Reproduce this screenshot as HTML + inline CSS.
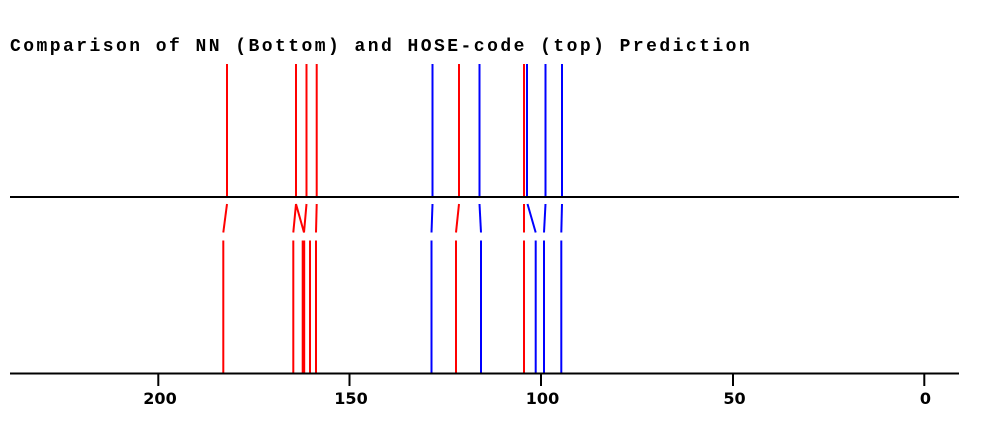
<!DOCTYPE html>
<html>
<head>
<meta charset="utf-8">
<style>
html,body{margin:0;padding:0;background:#fff;}
body{width:993px;height:426px;overflow:hidden;}
svg{display:block;}
</style>
</head>
<body>
<svg width="993" height="426" viewBox="0 0 993 426" xmlns="http://www.w3.org/2000/svg">
<rect width="993" height="426" fill="#fff"/>
<text x="10" y="51" font-family="Liberation Mono, monospace" font-weight="bold" font-size="18" letter-spacing="2.45" fill="#000">Comparison of NN (Bottom) and HOSE-code (top) Prediction</text>

<!-- top lines -->
<g stroke="#ff0000" stroke-width="2">
<line x1="227" y1="64" x2="227" y2="197"/>
<line x1="296" y1="64" x2="296" y2="197"/>
<line x1="306.5" y1="64" x2="306.5" y2="197"/>
<line x1="316.7" y1="64" x2="316.7" y2="197"/>
<line x1="459" y1="64" x2="459" y2="197"/>
<line x1="524" y1="64" x2="524" y2="197"/>
</g>
<g stroke="#0000ff" stroke-width="2">
<line x1="432.5" y1="64" x2="432.5" y2="197"/>
<line x1="479.5" y1="64" x2="479.5" y2="197"/>
<line x1="527" y1="64" x2="527" y2="197"/>
<line x1="545.5" y1="64" x2="545.5" y2="197"/>
<line x1="562" y1="64" x2="562" y2="197"/>
</g>

<!-- middle line -->
<line x1="10" y1="197" x2="959" y2="197" stroke="#000" stroke-width="2"/>

<!-- connectors -->
<g stroke="#ff0000" stroke-width="2">
<line x1="227" y1="204" x2="223.3" y2="232.5"/>
<line x1="296" y1="204" x2="293.3" y2="232.5"/>
<line x1="296" y1="204" x2="304" y2="232.5"/>
<line x1="306.5" y1="204" x2="304" y2="232.5"/>
<line x1="316.7" y1="204" x2="316" y2="232.5"/>
<line x1="459" y1="204" x2="456" y2="232.5"/>
<line x1="524" y1="204" x2="524" y2="232.5"/>
</g>
<g stroke="#0000ff" stroke-width="2">
<line x1="432.5" y1="204" x2="431.5" y2="232.5"/>
<line x1="479.5" y1="204" x2="481" y2="232.5"/>
<line x1="527.5" y1="204" x2="535.7" y2="232.5"/>
<line x1="545.5" y1="204" x2="544" y2="232.5"/>
<line x1="562" y1="204" x2="561.3" y2="232.5"/>
</g>

<!-- bottom lines -->
<g stroke="#ff0000" stroke-width="2">
<line x1="223.3" y1="240.5" x2="223.3" y2="373"/>
<line x1="293.3" y1="240.5" x2="293.3" y2="373"/>
<line x1="302.7" y1="240.5" x2="302.7" y2="373"/>
<line x1="304.2" y1="240.5" x2="304.2" y2="373"/>
<line x1="310" y1="240.5" x2="310" y2="373"/>
<line x1="316" y1="240.5" x2="316" y2="373"/>
<line x1="456" y1="240.5" x2="456" y2="373"/>
<line x1="524" y1="240.5" x2="524" y2="373"/>
</g>
<g stroke="#0000ff" stroke-width="2">
<line x1="431.5" y1="240.5" x2="431.5" y2="373"/>
<line x1="481" y1="240.5" x2="481" y2="373"/>
<line x1="535.7" y1="240.5" x2="535.7" y2="373"/>
<line x1="544" y1="240.5" x2="544" y2="373"/>
<line x1="561.3" y1="240.5" x2="561.3" y2="373"/>
</g>

<!-- axis -->
<line x1="10" y1="373.5" x2="959" y2="373.5" stroke="#000" stroke-width="2"/>
<g stroke="#000" stroke-width="2">
<line x1="158.3" y1="373" x2="158.3" y2="386"/>
<line x1="349.5" y1="373" x2="349.5" y2="386"/>
<line x1="541" y1="373" x2="541" y2="386"/>
<line x1="733" y1="373" x2="733" y2="386"/>
<line x1="924.3" y1="373" x2="924.3" y2="386"/>
</g>
<g font-family="DejaVu Sans, sans-serif" font-weight="bold" font-size="16" fill="#000" text-anchor="middle">
<text x="160" y="404">200</text>
<text x="351" y="404">150</text>
<text x="542.5" y="404">100</text>
<text x="734.5" y="404">50</text>
<text x="925.5" y="404">0</text>
</g>
</svg>
</body>
</html>
